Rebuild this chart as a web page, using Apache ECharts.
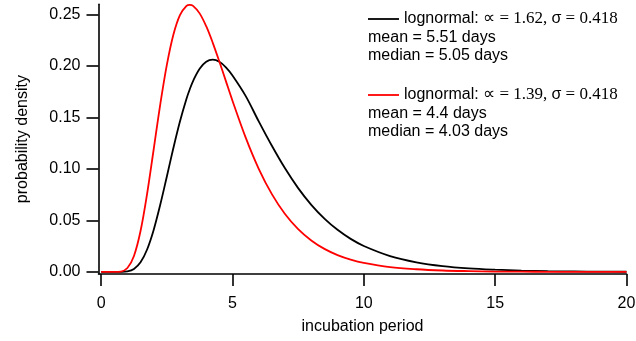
<!DOCTYPE html>
<html>
<head>
<meta charset="utf-8">
<title>Incubation period – lognormal fits</title>
<script src="https://cdn.jsdelivr.net/npm/echarts@6.0.0/dist/echarts.min.js"></script>
<style>
  html, body { margin: 0; padding: 0; background: #fff; }
  #chart { width: 636px; height: 341px; }
</style>
</head>
<body>
<div id="chart"></div>
<script>
// Incubation period (days) at which each density is sampled
const incubationDays = [0, 0.5, 0.75, 1, 1.25, 1.5, 1.75, 2, 2.25, 2.5, 2.75, 3, 3.25, 3.375, 3.5, 3.75,
  4, 4.25, 4.5, 4.75, 5, 5.5, 6, 6.5, 7, 7.5, 8, 8.5, 9, 9.5, 10, 11, 12, 13, 14, 15, 16, 17, 18, 19, 20];

// Probability density, lognormal ∝ = 1.62, σ = 0.418
const densityA = [0, 0, 0.00004, 0.0005, 0.0029, 0.0093, 0.0218, 0.0408, 0.0652, 0.0925, 0.1203, 0.1461, 0.1682, 0.1774, 0.1854, 0.1973,
  0.2041, 0.2061, 0.2041, 0.1987, 0.1908, 0.1710, 0.1462, 0.1225, 0.1006, 0.0814, 0.0652, 0.0518, 0.0409, 0.0321, 0.0252,
  0.0154, 0.0094, 0.0057, 0.0035, 0.0022, 0.0013, 0.0008, 0.0005, 0.0003, 0.0002];

// Probability density, lognormal ∝ = 1.39, σ = 0.418
const densityB = [0, 0.00001, 0.0004, 0.0038, 0.0155, 0.0397, 0.0758, 0.1189, 0.1625, 0.2009, 0.2304, 0.2495, 0.2584, 0.2594, 0.2584, 0.2511,
  0.2386, 0.2225, 0.2043, 0.1853, 0.1663, 0.1307, 0.1002, 0.0756, 0.0563, 0.0416, 0.0306, 0.0224, 0.0164, 0.0120, 0.0088,
  0.0047, 0.0026, 0.0014, 0.0008, 0.0004, 0.0003, 0.0001, 0.0001, 0.0001, 0.0000];

// Axis ticks
const xTicks = [0, 5, 10, 15, 20];
const yTicks = [0, 0.05, 0.10, 0.15, 0.20, 0.25];

// Legend text for each fit
const fitMu = ['1.62', '1.39'];
const fitSigma = ['0.418', '0.418'];
const fitMean = ['mean = 5.51 days', 'mean = 4.4 days'];
const fitMedian = ['median = 5.05 days', 'median = 4.03 days'];

const SANS = "'Liberation Sans', Arial, Helvetica, sans-serif";
const SERIF = "'Liberation Serif', 'Times New Roman', serif";
const colors = ['#000000', '#ff0000'];

const chart = echarts.init(document.getElementById('chart'), null, { renderer: 'canvas' });

function pairs(xs, ys) {
  return xs.map((x, i) => [x, ys[i]]);
}

function legendBlock(i, top) {
  const color = colors[i];
  const rich = {
    a: { fontFamily: SANS, fontSize: 16, fill: '#000' },
    s: { fontFamily: SERIF, fontSize: 17, fill: '#000' },
    g: { fontFamily: SANS, fontSize: 16, fill: '#000' }
  };
  return [
    {
      type: 'line',
      shape: { x1: 368, y1: top, x2: 399, y2: top },
      style: { stroke: color, lineWidth: 1.8 }
    },
    {
      type: 'text',
      style: {
        x: 404, y: top,
        text: '{a|lognormal: }{s|∝ = ' + fitMu[i] + ', }{g|σ}{s| = ' + fitSigma[i] + '}',
        rich: rich,
        verticalAlign: 'middle',
        align: 'left'
      }
    },
    {
      type: 'text',
      style: {
        x: 368, y: top + 18.5,
        text: fitMean[i],
        font: '16px ' + SANS, fill: '#000',
        verticalAlign: 'middle', align: 'left'
      }
    },
    {
      type: 'text',
      style: {
        x: 368, y: top + 37,
        text: fitMedian[i],
        font: '16px ' + SANS, fill: '#000',
        verticalAlign: 'middle', align: 'left'
      }
    }
  ];
}

const axisLine = { show: true, onZero: false, lineStyle: { color: '#000', width: 1.6 } };
const axisTickStyle = { lineStyle: { color: '#000', width: 1.6 } };

chart.setOption({
  animation: false,
  backgroundColor: '#fff',
  grid: {
    left: 98.5,
    right: 9.5,
    top: 4.2,
    height: 269.8,
    containLabel: false,
    outerBoundsMode: 'none'
  },
  xAxis: {
    type: 'value',
    min: -0.1,
    max: 20,
    name: 'incubation period',
    nameLocation: 'middle',
    nameGap: 45,
    nameTextStyle: { fontFamily: SANS, fontSize: 16, color: '#000' },
    axisLine: axisLine,
    axisTick: Object.assign({ show: true, inside: false, length: 12, customValues: xTicks }, axisTickStyle),
    axisLabel: {
      customValues: xTicks,
      margin: 22,
      fontFamily: SANS, fontSize: 16, color: '#000',
      formatter: v => String(v)
    },
    splitLine: { show: false }
  },
  yAxis: {
    type: 'value',
    min: -0.002,
    max: 0.26,
    name: 'probability density',
    nameLocation: 'middle',
    nameRotate: 90,
    nameGap: 68,
    nameTextStyle: { fontFamily: SANS, fontSize: 16, color: '#000' },
    axisLine: axisLine,
    axisTick: Object.assign({ show: true, inside: false, length: 12, customValues: yTicks }, axisTickStyle),
    axisLabel: {
      customValues: yTicks,
      margin: 18,
      fontFamily: SANS, fontSize: 16, color: '#000',
      formatter: v => v.toFixed(2)
    },
    splitLine: { show: false }
  },
  series: [
    {
      name: 'lognormal ∝ = ' + fitMu[0],
      type: 'line',
      data: pairs(incubationDays, densityA),
      showSymbol: false,
      symbol: 'none',
      smooth: 0.35,
      clip: false,
      lineStyle: { color: colors[0], width: 1.8 },
      z: 2
    },
    {
      name: 'lognormal ∝ = ' + fitMu[1],
      type: 'line',
      data: pairs(incubationDays, densityB),
      showSymbol: false,
      symbol: 'none',
      smooth: 0.35,
      clip: false,
      lineStyle: { color: colors[1], width: 1.8 },
      z: 3
    }
  ],
  graphic: {
    elements: legendBlock(0, 19).concat(legendBlock(1, 95))
  }
});
</script>
</body>
</html>
